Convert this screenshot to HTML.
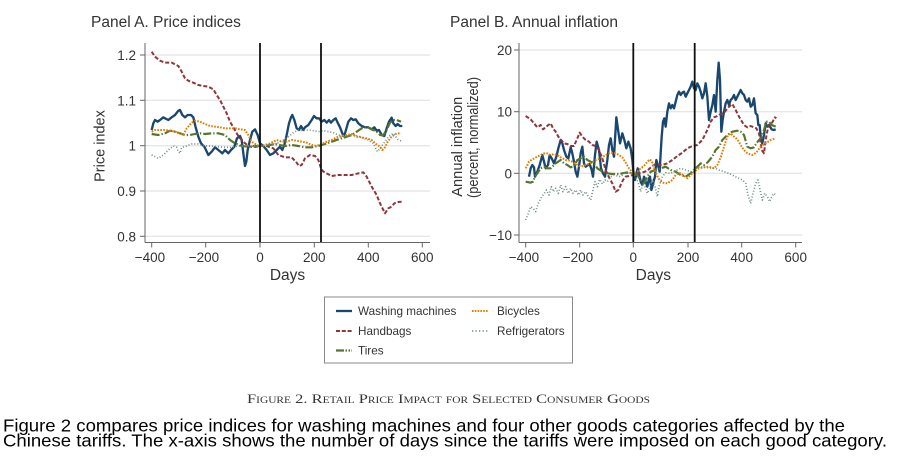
<!DOCTYPE html>
<html>
<head>
<meta charset="utf-8">
<style>
  html, body { margin:0; padding:0; background:#fff; }
  svg { display:block; }
  .t { font-family: "Liberation Sans", sans-serif; fill:#333; }
</style>
</head>
<body>
<svg width="904" height="462" viewBox="0 0 904 462" xmlns="http://www.w3.org/2000/svg">
  <rect width="904" height="462" fill="#fff"/>

  <!-- ================= PANEL A ================= -->
  <text class="t" x="91" y="27" font-size="15.5">Panel A. Price indices</text>

  <g stroke="#dedede" stroke-width="1">
    <line x1="145" y1="55" x2="430" y2="55"/>
    <line x1="145" y1="100.3" x2="430" y2="100.3"/>
    <line x1="145" y1="145.7" x2="430" y2="145.7"/>
    <line x1="145" y1="191" x2="430" y2="191"/>
    <line x1="145" y1="236.3" x2="430" y2="236.3"/>
  </g>

  <g transform="translate(145,40) scale(0.333333)" fill="none" stroke-linejoin="round">
    <polyline stroke="#1a476f" stroke-width="7" points="20,270 25,250 30,240 38,245 45,240 55,232 60,235 70,240 80,232 90,225 100,212 105,210 112,225 120,232 128,225 138,225 145,232 152,262 160,290 168,310 178,320 190,345 200,335 210,322 220,330 232,340 240,330 250,340 258,330 268,320 276,295 285,288 290,300 295,340 300,378 304,365 308,330 315,300 322,275 330,268 338,285 345,310 355,318 365,330 375,345 385,340 395,330 405,320 412,330 418,315 425,285 432,250 438,232 442,225 448,240 455,265 462,270 468,258 475,270 480,262 490,255 500,240 507,228 515,235 522,235 530,245 538,240 545,248 552,240 558,248 565,240 572,235 578,248 585,262 595,288 600,280 610,245 618,235 625,240 632,238 640,250 650,258 660,262 670,262 680,268 688,262 695,272 702,270 710,285 718,288 725,265 732,245 740,233 745,250 752,258 758,252 765,258 772,258"/>
    <polyline stroke="#90353b" stroke-width="6" stroke-dasharray="12 6" points="20,35 30,50 45,62 60,68 80,68 100,78 110,95 120,115 130,122 145,128 160,135 175,138 190,140 205,148 215,165 225,180 235,200 245,220 255,245 265,262 275,280 285,295 295,305 310,318 325,322 345,318 365,318 385,325 400,345 420,352 440,352 455,368 462,378 470,375 480,355 495,345 510,348 520,360 528,385 535,395 545,400 560,408 580,405 600,405 620,405 640,400 655,397 665,410 680,440 695,465 705,490 715,510 720,520 730,505 740,500 748,490 760,486 772,485"/>
    <polyline stroke="#55752f" stroke-width="6.5" stroke-dasharray="24 6 4 6" points="20,282 40,285 60,280 75,272 90,275 105,280 120,285 135,285 150,282 165,280 180,282 200,280 220,280 240,285 255,300 270,310 290,318 310,320 330,318 345,318 360,318 375,315 390,312 405,315 420,318 440,315 460,318 480,322 500,322 520,318 540,312 560,305 580,298 600,292 620,285 635,275 650,265 665,260 680,268 695,275 705,285 715,285 725,270 735,248 745,240 755,240 768,245"/>
    <polyline stroke="#e37e00" stroke-width="6" stroke-dasharray="5 4" points="20,275 30,270 45,270 60,270 75,272 90,275 105,280 115,285 125,265 140,248 150,242 165,245 180,252 195,258 210,260 225,262 240,265 255,265 270,265 285,268 300,270 310,285 320,305 335,315 345,318 360,315 375,310 385,305 395,300 410,305 425,305 440,300 455,302 470,305 485,308 500,315 515,318 530,312 545,305 560,300 575,292 590,288 605,285 620,282 635,290 650,292 665,295 680,300 693,312 705,320 712,330 720,322 728,305 740,290 755,280 768,280"/>
    <polyline stroke="#6e8e84" stroke-width="5" stroke-dasharray="3 6" points="20,345 30,350 40,355 55,345 70,330 85,318 95,322 100,335 105,340 110,322 125,318 140,312 160,312 180,318 200,318 220,320 240,322 260,322 280,318 300,318 320,318 345,318 365,315 385,312 400,308 415,300 430,290 445,278 460,270 475,272 490,270 505,272 520,275 535,272 550,275 565,278 580,285 595,290 610,290 625,285 640,288 655,295 670,300 685,310 697,335 705,325 715,312 730,290 745,280 758,298 772,305"/>
  </g>

  <line x1="260" y1="43" x2="260" y2="242" stroke="#111" stroke-width="1.8"/>
  <line x1="321" y1="43" x2="321" y2="242" stroke="#111" stroke-width="1.8"/>

  <g stroke="#666" stroke-width="1">
    <line x1="145" y1="43" x2="145" y2="242.5"/>
    <line x1="145" y1="242.5" x2="430" y2="242.5"/>
    <line x1="140" y1="55" x2="145" y2="55"/>
    <line x1="140" y1="100.3" x2="145" y2="100.3"/>
    <line x1="140" y1="145.7" x2="145" y2="145.7"/>
    <line x1="140" y1="191" x2="145" y2="191"/>
    <line x1="140" y1="236.3" x2="145" y2="236.3"/>
    <line x1="151.7" y1="242.5" x2="151.7" y2="247.5"/>
    <line x1="205.7" y1="242.5" x2="205.7" y2="247.5"/>
    <line x1="260" y1="242.5" x2="260" y2="247.5"/>
    <line x1="314.3" y1="242.5" x2="314.3" y2="247.5"/>
    <line x1="368.3" y1="242.5" x2="368.3" y2="247.5"/>
    <line x1="422.3" y1="242.5" x2="422.3" y2="247.5"/>
  </g>
  <g class="t" font-size="13.5" text-anchor="end">
    <text x="136" y="60">1.2</text>
    <text x="136" y="105.3">1.1</text>
    <text x="136" y="150.7">1</text>
    <text x="136" y="196">0.9</text>
    <text x="136" y="241.3">0.8</text>
  </g>
  <g class="t" font-size="13.5" text-anchor="middle">
    <text x="150" y="262">−400</text>
    <text x="204" y="262">−200</text>
    <text x="260" y="262">0</text>
    <text x="314.3" y="262">200</text>
    <text x="368.3" y="262">400</text>
    <text x="422.3" y="262">600</text>
  </g>
  <text class="t" x="287.5" y="280" font-size="15.5" text-anchor="middle">Days</text>
  <text class="t" transform="translate(104.5,146) rotate(-90)" font-size="14.5" text-anchor="middle">Price index</text>

  <!-- ================= PANEL B ================= -->
  <text class="t" x="450" y="27" font-size="15.5">Panel B. Annual inflation</text>

  <g stroke="#dedede" stroke-width="1">
    <line x1="519" y1="50" x2="802" y2="50"/>
    <line x1="519" y1="111.7" x2="802" y2="111.7"/>
    <line x1="519" y1="173.3" x2="802" y2="173.3"/>
    <line x1="519" y1="235" x2="802" y2="235"/>
  </g>

  <g transform="translate(519,40) scale(0.333333)" fill="none" stroke-linejoin="round">
    <polyline stroke="#1a476f" stroke-width="7" points="30,410 35,385 40,375 45,382 48,410 55,395 62,375 70,345 75,365 80,385 87,375 92,345 98,355 105,370 112,350 118,325 125,300 130,310 135,330 142,350 148,355 155,322 160,340 165,365 170,395 175,410 180,380 185,340 190,320 195,370 200,380 207,375 212,372 218,390 222,410 228,345 233,305 240,330 246,385 252,400 258,410 265,360 270,315 275,295 280,330 285,350 292,232 298,275 303,310 310,280 316,300 322,325 328,305 335,325 340,360 343,395 348,420 352,405 356,385 360,400 365,425 370,435 375,410 380,425 385,440 390,415 393,410 397,450 400,440 405,420 408,410 412,360 418,380 422,395 425,340 428,290 432,245 436,235 440,260 445,215 450,190 455,205 460,195 465,205 470,185 475,165 480,155 485,165 490,158 495,155 500,170 505,160 510,150 515,140 520,125 525,145 530,150 535,130 540,140 545,155 550,175 555,160 560,130 565,170 570,240 575,215 580,195 585,165 590,215 595,120 599,68 603,120 607,275 611,240 615,215 620,190 625,180 630,195 635,180 640,175 645,165 650,180 655,170 660,160 665,150 670,160 675,165 680,180 685,185 690,175 695,200 700,195 705,175 710,220 715,225 718,255 722,255 726,300 730,310 735,285 740,250 745,260 750,255 758,268 765,270 770,268"/>
    <polyline stroke="#90353b" stroke-width="6" stroke-dasharray="12 6" points="20,228 35,238 45,250 55,262 65,255 72,268 80,262 88,255 95,250 102,265 110,275 118,290 125,298 135,310 145,312 155,318 165,318 175,295 182,278 190,290 200,300 210,305 220,315 230,318 240,330 250,355 260,390 270,412 280,430 290,455 298,450 305,435 312,420 320,410 330,408 343,405 355,400 370,398 385,392 400,378 410,372 420,375 430,375 445,370 460,360 475,348 490,338 505,325 520,318 535,315 550,300 565,270 575,245 585,232 595,228 605,222 615,218 630,200 640,192 650,210 660,230 675,255 685,262 695,258 705,262 712,265 720,280 728,330 735,340 740,300 748,258 758,250 768,232 772,235"/>
    <polyline stroke="#55752f" stroke-width="6.5" stroke-dasharray="24 6 4 6" points="20,425 35,428 42,425 48,410 55,400 65,385 75,380 85,385 95,385 110,370 125,360 135,370 145,375 155,382 165,378 175,360 185,355 195,350 205,360 215,365 225,370 235,385 250,395 265,400 280,402 300,402 320,398 343,400 355,405 365,420 375,430 385,410 395,395 410,390 425,385 440,380 455,390 470,395 485,405 500,410 515,400 530,385 545,370 555,375 565,368 580,350 590,330 600,320 610,300 625,285 640,275 655,272 665,275 675,285 685,320 695,325 705,322 712,310 720,300 728,292 735,270 742,245 750,245 758,255 770,260"/>
    <polyline stroke="#e37e00" stroke-width="6" stroke-dasharray="5 4" points="20,385 25,375 30,365 40,358 55,350 65,345 75,340 85,340 95,345 105,342 115,345 125,352 140,360 155,362 170,372 185,380 200,375 215,370 230,360 245,355 260,345 275,338 290,340 300,345 310,352 320,368 330,385 343,400 355,395 365,385 375,378 385,365 393,358 400,368 410,398 420,418 430,428 445,430 460,420 470,405 480,398 492,405 505,415 515,405 525,395 540,385 555,382 570,380 585,385 595,375 605,352 615,320 625,290 635,280 645,290 655,298 665,315 675,330 685,340 700,345 712,338 725,320 740,310 755,300 770,295"/>
    <polyline stroke="#6e8e84" stroke-width="5" stroke-dasharray="3 6" points="20,540 28,520 35,500 42,505 50,515 58,490 68,470 75,462 82,450 90,465 97,440 103,455 110,445 118,460 125,435 132,455 140,440 148,460 155,445 162,460 170,450 178,465 185,450 192,465 200,455 208,470 215,480 222,450 228,425 235,440 242,418 250,432 258,420 265,425 275,410 285,405 295,408 305,410 315,400 325,395 335,400 343,402 350,410 358,430 365,455 372,430 378,440 385,460 392,445 400,418 408,440 415,470 420,440 430,410 440,398 455,400 470,392 485,385 500,390 515,395 530,385 545,380 560,382 575,385 590,385 600,390 615,395 630,400 645,408 660,415 670,420 680,430 687,465 695,490 702,460 710,430 717,420 722,445 730,480 737,460 745,470 752,485 758,470 765,460 770,465"/>
  </g>

  <line x1="633.3" y1="43" x2="633.3" y2="242" stroke="#111" stroke-width="1.8"/>
  <line x1="694.7" y1="43" x2="694.7" y2="242" stroke="#111" stroke-width="1.8"/>

  <g stroke="#666" stroke-width="1">
    <line x1="519" y1="43" x2="519" y2="242.5"/>
    <line x1="519" y1="242.5" x2="802" y2="242.5"/>
    <line x1="514" y1="50" x2="519" y2="50"/>
    <line x1="514" y1="111.7" x2="519" y2="111.7"/>
    <line x1="514" y1="173.3" x2="519" y2="173.3"/>
    <line x1="514" y1="235" x2="519" y2="235"/>
    <line x1="525.7" y1="242.5" x2="525.7" y2="247.5"/>
    <line x1="579.7" y1="242.5" x2="579.7" y2="247.5"/>
    <line x1="633.3" y1="242.5" x2="633.3" y2="247.5"/>
    <line x1="688" y1="242.5" x2="688" y2="247.5"/>
    <line x1="741.7" y1="242.5" x2="741.7" y2="247.5"/>
    <line x1="795.7" y1="242.5" x2="795.7" y2="247.5"/>
  </g>
  <g class="t" font-size="13.5" text-anchor="end">
    <text x="512" y="55">20</text>
    <text x="512" y="116.7">10</text>
    <text x="512" y="178.3">0</text>
    <text x="512" y="240">−10</text>
  </g>
  <g class="t" font-size="13.5" text-anchor="middle">
    <text x="524" y="262">−400</text>
    <text x="578" y="262">−200</text>
    <text x="633.3" y="262">0</text>
    <text x="688" y="262">200</text>
    <text x="741.7" y="262">400</text>
    <text x="795.7" y="262">600</text>
  </g>
  <text class="t" x="653.3" y="280" font-size="15.5" text-anchor="middle">Days</text>
  <text class="t" transform="translate(462,146.7) rotate(-90)" font-size="14.5" text-anchor="middle" textLength="100" lengthAdjust="spacingAndGlyphs">Annual inflation</text>
  <text class="t" transform="translate(478,137.5) rotate(-90)" font-size="14.5" text-anchor="middle" textLength="121" lengthAdjust="spacingAndGlyphs">(percent, normalized)</text>

  <!-- ================= LEGEND ================= -->
  <rect x="324.5" y="297" width="248" height="66" fill="#fff" stroke="#8a8a8a" stroke-width="1"/>
  <line x1="336" y1="311" x2="352" y2="311" stroke="#1a476f" stroke-width="2.3"/>
  <line x1="336" y1="331" x2="352" y2="331" stroke="#90353b" stroke-width="2" stroke-dasharray="4 1.8"/>
  <line x1="336" y1="350.5" x2="352" y2="350.5" stroke="#55752f" stroke-width="2.2" stroke-dasharray="8 1.5 1.5 1.5 1.5 1.5"/>
  <line x1="472" y1="311" x2="488" y2="311" stroke="#e37e00" stroke-width="2" stroke-dasharray="1.6 1.2"/>
  <line x1="472" y1="331" x2="488" y2="331" stroke="#6e8e84" stroke-width="1.6" stroke-dasharray="1.3 2.2"/>
  <g class="t" font-size="11.7">
    <text x="358" y="315">Washing machines</text>
    <text x="358" y="335">Handbags</text>
    <text x="358" y="354.5">Tires</text>
    <text x="497" y="315">Bicycles</text>
    <text x="497" y="335">Refrigerators</text>
  </g>

  <!-- ================= CAPTION ================= -->
  <text x="247" y="403" font-family="'Liberation Serif', serif" font-size="13" fill="#333" style="font-variant:small-caps" textLength="403" lengthAdjust="spacingAndGlyphs">Figure 2. Retail Price Impact for Selected Consumer Goods</text>

  <text x="3" y="431.5" font-family="'Liberation Sans', sans-serif" font-size="17.5" fill="#000" textLength="842" lengthAdjust="spacingAndGlyphs">Figure 2 compares price indices for washing machines and four other goods categories affected by the</text>
  <text x="3" y="446.5" font-family="'Liberation Sans', sans-serif" font-size="17.5" fill="#000" textLength="884" lengthAdjust="spacingAndGlyphs">Chinese tariffs. The x-axis shows the number of days since the tariffs were imposed on each good category.</text>
</svg>
</body>
</html>
